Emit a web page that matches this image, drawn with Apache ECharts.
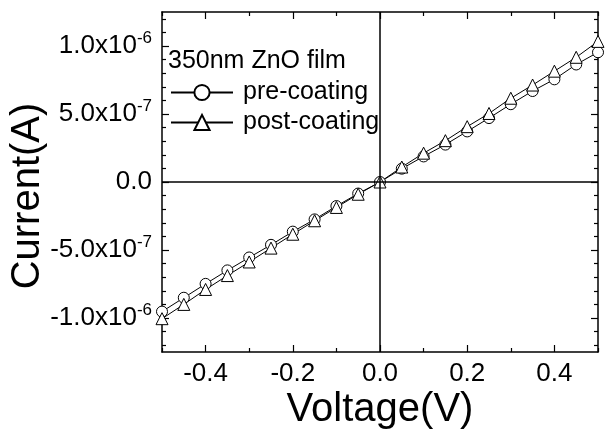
<!DOCTYPE html>
<html>
<head>
<meta charset="utf-8">
<script src="https://cdn.jsdelivr.net/npm/echarts@6/dist/echarts.min.js"></script>
<style>html,body{margin:0;padding:0;background:#fff}#c{width:605px;height:438px}</style>
</head>
<body>
<div id="c"></div>
<script>
// Voltage (V)
const voltage = [-0.5,-0.45,-0.4,-0.35,-0.3,-0.25,-0.2,-0.15,-0.1,-0.05,0,0.05,0.1,0.15,0.2,0.25,0.3,0.35,0.4,0.45,0.5];
// Current (A), units of 1e-6
const preCoating  = [-0.953,-0.851,-0.749,-0.650,-0.555,-0.462,-0.365,-0.275,-0.177,-0.085,0,0.098,0.188,0.275,0.372,0.470,0.572,0.669,0.755,0.864,0.954];
const postCoating = [-1.005,-0.900,-0.790,-0.688,-0.588,-0.486,-0.384,-0.285,-0.187,-0.090,0,0.110,0.212,0.304,0.407,0.504,0.616,0.713,0.815,0.917,1.034];
const seriesNames = ['pre-coating','post-coating'];
const legendTitle = '350nm ZnO film';
const xMajorTicks = [-0.4,-0.2,0,0.2,0.4];
const xMinorTicks = [-0.5,-0.3,-0.1,0.1,0.3,0.5];
const yMajorTicks = [-1e-6,-5e-7,0,5e-7,1e-6];
const yMinorTicks = [-1.2e-6,-1.1e-6,-9e-7,-8e-7,-7e-7,-6e-7,-4e-7,-3e-7,-2e-7,-1e-7,1e-7,2e-7,3e-7,4e-7,6e-7,7e-7,8e-7,9e-7,1.1e-6,1.2e-6];

const FONT = '"Liberation Sans", Arial, sans-serif';
const toPairs = (ys) => voltage.map((v,i)=>[v, ys[i]*1e-6]);

function yFmt(v){
  if (Math.abs(v) < 1e-12) return '0.0';
  const e = Math.floor(Math.log10(Math.abs(v)) + 1e-9);
  const m = v / Math.pow(10, e);
  return m.toFixed(1) + 'x10{sup|' + e + '}';
}

const xBase = {type:'value', min:-0.5, max:0.5, splitLine:{show:false}, axisLine:{show:false, onZero:false}, axisLabel:{show:false}};
const yBase = {type:'value', min:-1.25e-6, max:1.25e-6, splitLine:{show:false}, axisLine:{show:false, onZero:false}, axisLabel:{show:false}};
const frameLine = {show:true, onZero:false, lineStyle:{color:'#000', width:1.5}};

const chart = echarts.init(document.getElementById('c'), null, {renderer:'canvas'});
chart.setOption({
  animation:false,
  backgroundColor:'#fff',
  grid:{left:162, right:7, top:12, bottom:86, containLabel:false, outerBoundsMode:'none'},
  title:{text:legendTitle, left:168, top:49, padding:0, textStyle:{fontFamily:FONT, fontSize:25, fontWeight:'normal', color:'#000'}},
  legend:{
    data:seriesNames, orient:'vertical', left:170, top:80, padding:0, itemWidth:62, itemHeight:19, itemGap:5,
    textStyle:{fontFamily:FONT, fontSize:25, color:'#000', padding:[0,0,0,5]}
  },
  xAxis:[
    Object.assign({}, xBase, {position:'bottom', axisLine:frameLine,
      name:'Voltage(V)', nameLocation:'middle', nameGap:38, nameMoveOverlap:false,
      nameTextStyle:{fontFamily:FONT, fontSize:40, color:'#000'},
      axisTick:{inside:true, length:7, lineStyle:{color:'#000', width:1.2}, customValues:xMajorTicks},
      axisLabel:{show:true, margin:9, fontFamily:FONT, fontSize:26, color:'#000', customValues:xMajorTicks, formatter:(v)=>v.toFixed(1)}}),
    Object.assign({}, xBase, {position:'top', axisLine:frameLine,
      axisTick:{inside:true, length:7, lineStyle:{color:'#000', width:1.2}, customValues:xMajorTicks}}),
    Object.assign({}, xBase, {position:'bottom',
      axisTick:{inside:true, length:4, lineStyle:{color:'#000', width:1.2}, customValues:xMinorTicks}}),
    Object.assign({}, xBase, {position:'top',
      axisTick:{inside:true, length:4, lineStyle:{color:'#000', width:1.2}, customValues:xMinorTicks}})
  ],
  yAxis:[
    Object.assign({}, yBase, {position:'left', axisLine:frameLine,
      name:'Current(A)', nameLocation:'middle', nameGap:114, nameMoveOverlap:false,
      nameTextStyle:{fontFamily:FONT, fontSize:40, color:'#000', padding:[0,28,0,0]},
      axisTick:{inside:true, length:7, lineStyle:{color:'#000', width:1.2}, customValues:yMajorTicks},
      axisLabel:{show:true, margin:10, fontFamily:FONT, fontSize:26, color:'#000', customValues:yMajorTicks, formatter:yFmt,
        rich:{sup:{fontFamily:FONT, fontSize:17, color:'#000', verticalAlign:'top', padding:[0,0,15,0]}}}}),
    Object.assign({}, yBase, {position:'right', axisLine:frameLine,
      axisTick:{inside:true, length:7, lineStyle:{color:'#000', width:1.2}, customValues:yMajorTicks}}),
    Object.assign({}, yBase, {position:'left',
      axisTick:{inside:true, length:4, lineStyle:{color:'#000', width:1.2}, customValues:yMinorTicks}}),
    Object.assign({}, yBase, {position:'right',
      axisTick:{inside:true, length:4, lineStyle:{color:'#000', width:1.2}, customValues:yMinorTicks}})
  ],
  series:[
    {name:seriesNames[0], type:'line', data:toPairs(preCoating), symbol:'circle', symbolSize:11,
      lineStyle:{color:'#000', width:1}, itemStyle:{color:'#fff', borderColor:'#000', borderWidth:1},
      markLine:{silent:true, symbol:'none', label:{show:false}, lineStyle:{color:'#000', width:1.5, type:'solid'},
        data:[{xAxis:0},{yAxis:0}]}},
    {name:seriesNames[1], type:'line', data:toPairs(postCoating), symbol:'triangle', symbolSize:12,
      lineStyle:{color:'#000', width:1}, itemStyle:{color:'#fff', borderColor:'#000', borderWidth:1}}
  ]
});
</script>
</body>
</html>
